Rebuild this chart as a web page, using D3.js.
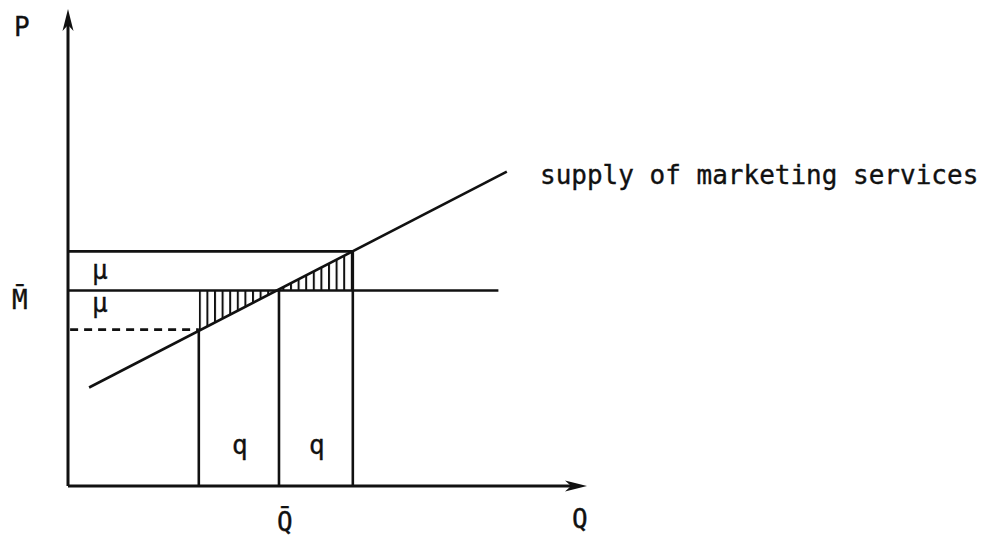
<!DOCTYPE html>
<html>
<head>
<meta charset="utf-8">
<script src="https://cdn.jsdelivr.net/npm/d3@7"></script>
<style>
  html, body { margin: 0; padding: 0; background: #fff; }
  svg { display: block; }
  text { font-family: "DejaVu Sans Mono", monospace; font-size: 26px; fill: #111; stroke: #111; stroke-width: 0.35px; }
</style>
</head>
<body>
<svg id="chart" width="997" height="539"></svg>
<script>
// Quantities (Q) and price levels (P) of the diagram
const qAxisMax = 12.3;
const pAxisMax = 12.2;
const qMarks = [3.1, 5.0, 6.75];      // Q̄ − q, Q̄, Q̄ + q
const pLevels = [4.0, 5.0, 6.0];      // M̄ − μ, M̄, M̄ + μ
const mBarLineEnd = 10.2;             // right end of the M̄ line
const supplyQ = [0.5, 10.4];          // supply of marketing services
const supplyP = [2.52, 8.04];
const axisLabels = ["P", "Q"];
const levelLabels = ["M\u0304", "\u03bc", "\u03bc"];
const quantityLabels = ["Q\u0304", "q", "q"];
const curveLabel = "supply of marketing services";

const svg = d3.select("#chart");
const ink = "#111";

const x = d3.scaleLinear().domain([0, qAxisMax]).range([68, 587]);
const y = d3.scaleLinear().domain([0, pAxisMax]).range([486, 9]);

const line = d3.line().x(d => x(d[0])).y(d => y(d[1]));
const supplyAt = q => supplyP[0] + (supplyP[1] - supplyP[0]) * (q - supplyQ[0]) / (supplyQ[1] - supplyQ[0]);
const qAt = p => supplyQ[0] + (supplyQ[1] - supplyQ[0]) * (p - supplyP[0]) / (supplyP[1] - supplyP[0]);

const [qLow, qBar, qHigh] = qMarks;
const [pLow, mBar, pHigh] = pLevels;

// vertical hatching
const defs = svg.append("defs");
defs.append("pattern")
  .attr("id", "hatch")
  .attr("patternUnits", "userSpaceOnUse")
  .attr("width", 7.6).attr("height", 10)
  .attr("x", x(qLow))
  .append("line")
  .attr("x1", 1).attr("x2", 1).attr("y1", 0).attr("y2", 10)
  .attr("stroke", ink).attr("stroke-width", 2);

const qCross = qAt(mBar);
const hatchAreas = [
  [[qLow, mBar], [qCross, mBar], [qLow, supplyAt(qLow)]],
  [[qCross, mBar], [qHigh, mBar], [qHigh, supplyAt(qHigh)]]
];
svg.append("g").selectAll("path")
  .data(hatchAreas)
  .join("path")
  .attr("d", d => line(d) + "Z")
  .attr("fill", "url(#hatch)")
  .attr("stroke", "none");

const g = svg.append("g")
  .attr("fill", "none")
  .attr("stroke", ink)
  .attr("stroke-width", 2.6)
  .attr("stroke-linecap", "butt");

// axes
g.append("path").attr("d", line([[0, 0], [0, pAxisMax - 0.35]])).attr("stroke-width", 3);
g.append("path").attr("d", line([[0, 0], [qAxisMax - 0.35, 0]])).attr("stroke-width", 3);

const arrow = "M0,0L-22,-5.5L-16,0L-22,5.5Z";
svg.append("path").attr("d", arrow).attr("fill", ink)
  .attr("transform", `translate(${x(qAxisMax)},${y(0)})`);
svg.append("path").attr("d", arrow).attr("fill", ink)
  .attr("transform", `translate(${x(0)},${y(pAxisMax)}) rotate(-90)`);

// horizontal levels
g.append("path").attr("d", line([[0, pHigh], [qHigh, pHigh]]));
g.append("path").attr("d", line([[0, mBar], [mBarLineEnd, mBar]]));
g.append("path").attr("d", line([[0.05, pLow], [qLow, pLow]]))
  .attr("stroke-dasharray", "8,6");

// quantity verticals
g.append("path").attr("d", line([[qLow, pLow], [qLow, 0]]));
g.append("path").attr("d", line([[qBar, mBar], [qBar, 0]]));
g.append("path").attr("d", line([[qHigh, pHigh], [qHigh, 0]]));

// supply curve
g.append("path").attr("d", line(supplyQ.map((q, i) => [q, supplyP[i]])));

// labels
const t = svg.append("g");
t.append("text").attr("x", 14).attr("y", 36).text(axisLabels[0]);
t.append("text").attr("x", 572).attr("y", 528).text(axisLabels[1]);
t.append("text").attr("x", 12).attr("y", 309).text(levelLabels[0]);
t.append("text").attr("x", 92).attr("y", 279).text(levelLabels[1]);
t.append("text").attr("x", 92).attr("y", 312).text(levelLabels[2]);
t.append("text").attr("x", 277).attr("y", 531).text(quantityLabels[0]);
t.append("text").attr("x", 232).attr("y", 454).text(quantityLabels[1]);
t.append("text").attr("x", 309).attr("y", 454).text(quantityLabels[2]);
t.append("text").attr("x", 540).attr("y", 184).text(curveLabel);
</script>
</body>
</html>
